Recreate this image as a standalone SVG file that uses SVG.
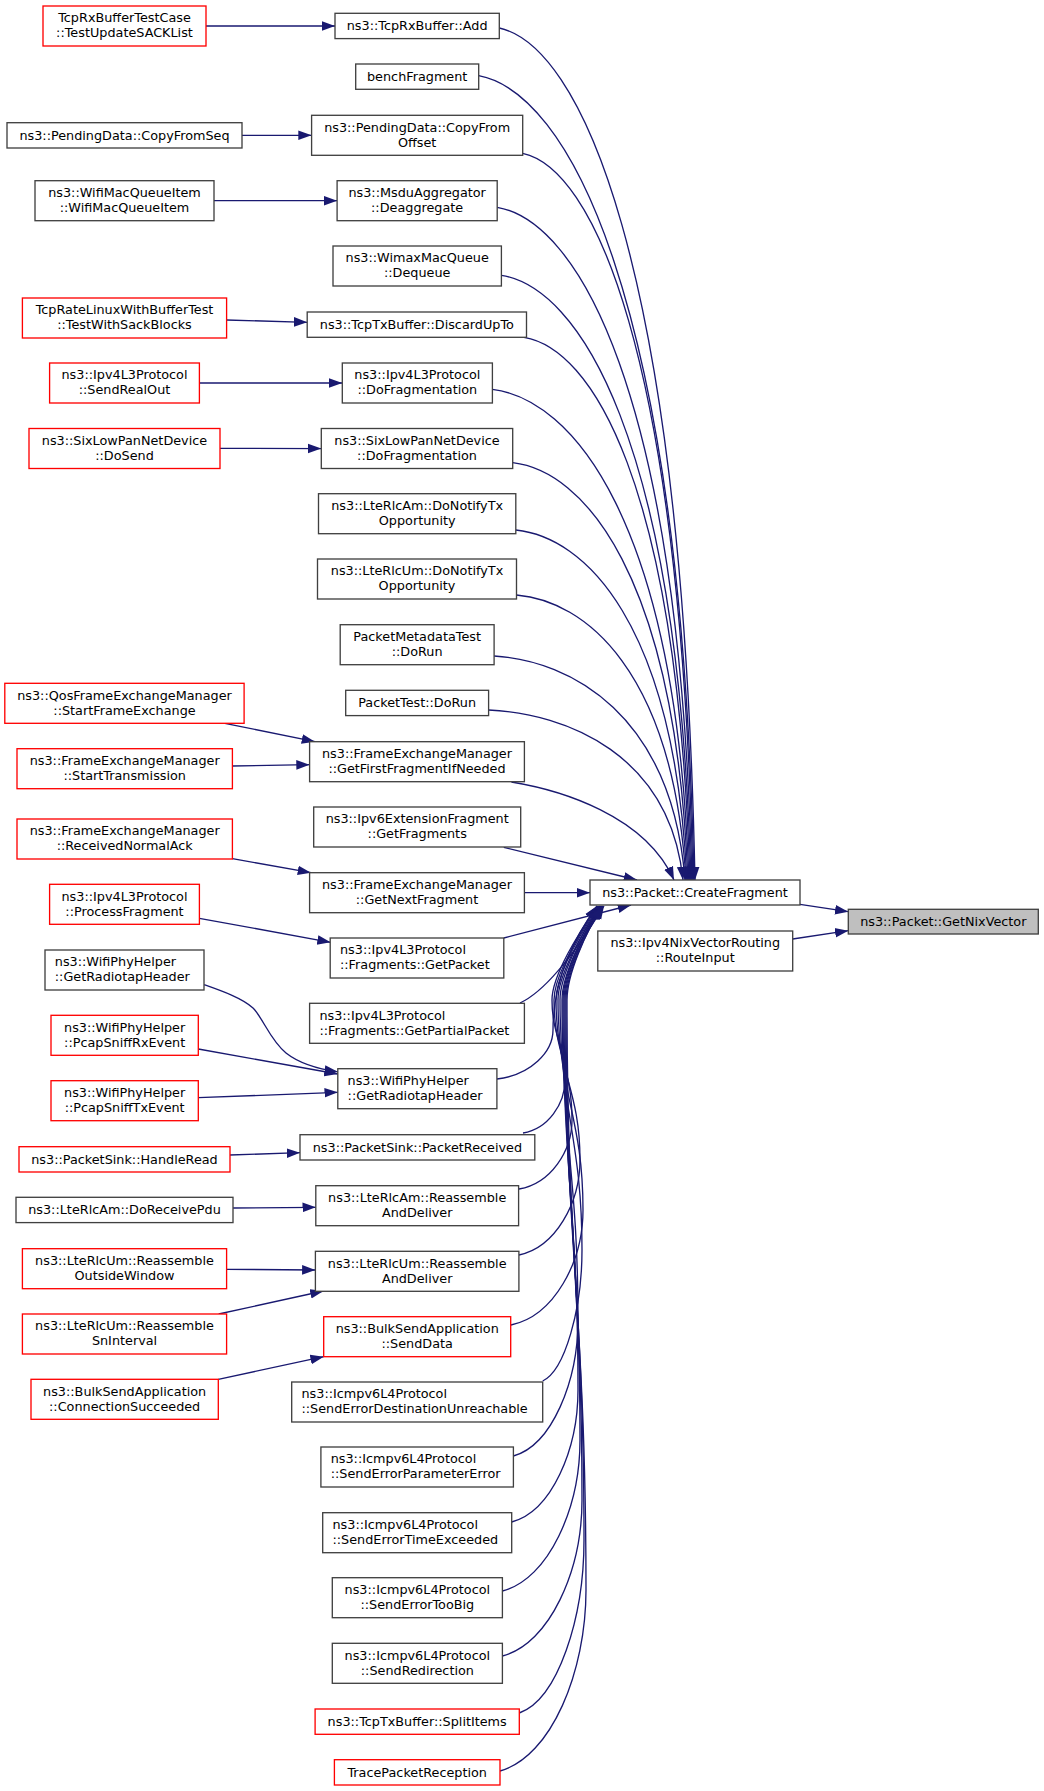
<svg xmlns="http://www.w3.org/2000/svg" width="1044" height="1791" viewBox="0 0 1044 1791">
<defs>
<style>
.n rect{fill:#ffffff;stroke:#404040;stroke-width:1.33}
.r rect{fill:#ffffff;stroke:#ff0000;stroke-width:1.33}
.g rect{fill:#bfbfbf;stroke:#404040;stroke-width:1.33}
text{font-family:"DejaVu Sans","Liberation Sans",sans-serif;font-size:12.8px;fill:#000000}
.c text{text-anchor:middle}
.e path,.e line{fill:none;stroke:#191970;stroke-width:1.33;marker-end:url(#a)}
</style>
<marker id="a" markerUnits="userSpaceOnUse" markerWidth="14" markerHeight="11" viewBox="0 0 14 11" refX="13.3" refY="5.2" orient="auto">
<path d="M0,0.4 L13.3,5.2 L0,10 z" fill="#191970"/>
</marker>
</defs>
<rect x="0" y="0" width="1044" height="1791" fill="#ffffff"/>

<g id="edges" class="e">
<line x1="206" y1="26" x2="335" y2="26"/>
<line x1="242" y1="135.3" x2="311.6" y2="135.3"/>
<line x1="213.8" y1="200.7" x2="337.1" y2="200.7"/>
<line x1="226.6" y1="320" x2="307.2" y2="322.3"/>
<line x1="199.4" y1="383" x2="342.3" y2="383"/>
<line x1="220" y1="448.3" x2="321.3" y2="448.6"/>
<line x1="224.9" y1="723.3" x2="315" y2="741.7"/>
<line x1="232.4" y1="766" x2="309.6" y2="764.7"/>
<line x1="232.4" y1="858.7" x2="311" y2="872.7"/>
<line x1="199.4" y1="918.3" x2="330.6" y2="942.3"/>
<path d="M204.2,984.7 C222,991 242,998 253,1008 C263,1018 270,1040 286,1053 C300,1064 318,1069 337.8,1071.8"/>
<line x1="198.3" y1="1049" x2="337.8" y2="1074"/>
<line x1="198.3" y1="1097.7" x2="337.8" y2="1092.3"/>
<line x1="230" y1="1155" x2="300" y2="1152.7"/>
<line x1="233.1" y1="1208" x2="315.8" y2="1207.3"/>
<line x1="226.6" y1="1269.3" x2="315.4" y2="1270"/>
<line x1="218.7" y1="1314" x2="323.5" y2="1291"/>
<line x1="218.3" y1="1379.3" x2="323.7" y2="1356.7"/>

<path d="M499.3,28 C577.6,45 682,249.5 695,880"/>
<path d="M478.7,75.7 C564.8,91.8 681,284.8 694,880"/>
<path d="M522.7,153.3 C590.8,167.8 680,342.2 693,880"/>
<path d="M497.2,207.3 C575.1,220.8 679,382.2 692,880"/>
<path d="M501.4,275.3 C577.2,287.4 678,432.5 691,880"/>
<path d="M524,337.3 C590.4,348.2 677,478.4 690,880"/>
<path d="M492.4,389.3 C571,399.1 676,516.9 689,880"/>
<path d="M512.7,462.7 C582.8,471 675,571.2 688,880"/>
<path d="M515.8,530 C584.3,537 674,621 687,880"/>
<path d="M516.5,595 C584.3,600.7 673,669.1 686,880"/>
<path d="M494.1,656 C570.5,660.5 672,714.2 685,880"/>
<path d="M488.6,710 C566.4,713.4 670,754.2 683,880"/>
<path d="M511.4,782 C560,790 645,815 674,880"/>
<line x1="503.8" y1="847.3" x2="637" y2="880"/>
<line x1="524.4" y1="892.7" x2="590" y2="892.7"/>
<line x1="503.8" y1="938" x2="631" y2="905"/>
<path d="M520,1003 C548,990 580,945 604,906"/>
<path d="M497,1079 C530.6,1075 553,1052 553,1030 C553,975 578,933 597,906"/>
<path d="M523,1133 C548.2,1128.8 565,1103.8 565,1080 C565,1044 552,1036 552,1000 C552,975 579,933 597,906"/>
<path d="M519,1189 C550.8,1183.5 572,1151 572,1120 C572,1066 554,1054 554,1000 C554,975 580,933 598,906"/>
<path d="M519,1255 C555.6,1247.4 580,1202.8 580,1160 C580,1088 556,1072 556,1000 C556,975 581,933 599,906"/>
<path d="M511,1325 C554.2,1315.8 583,1261.8 583,1210 C583,1115.5 558,1094.5 558,1000 C558,975 582,933 600,906"/>
<path d="M542.7,1381 C565,1370.5 582,1309 582,1250 C582,1137.5 560,1112.5 560,1000 C560,975 582,933 600,906"/>
<path d="M513.4,1456 C552,1445.1 578,1381.2 578,1320 C578,1176 562,1144 562,1000 C562,975 583,933 601,906"/>
<path d="M511.7,1522 C551.6,1511.4 578,1449.4 578,1390 C578,1214.5 563,1175.5 563,1000 C563,975 583,933 601,906"/>
<path d="M502.4,1591 C548.8,1578.9 580,1508 580,1440 C580,1242 564,1198 564,1000 C564,975 584,933 602,906"/>
<path d="M502.4,1656 C550,1643.5 582,1570.2 582,1500 C582,1275 565,1225 565,1000 C565,975 584,933 602,906"/>
<path d="M519.3,1713 C558,1699.2 584,1617.9 584,1540 C584,1297 566,1243 566,1000 C566,975 585,933 603,906"/>
<path d="M500,1771 C551.6,1756.5 586,1671.5 586,1590 C586,1324.5 567,1265.5 567,1000 C567,975 585,933 603,906"/>

<line x1="800" y1="904.3" x2="848.3" y2="911.7"/>
<line x1="792.7" y1="939" x2="848.3" y2="930.7"/>
</g>

<g id="node-L1" class="r c"><rect x="43" y="6" width="163" height="40"/><text x="124.5" y="22.2">TcpRxBufferTestCase</text><text x="124.5" y="37.2">::TestUpdateSACKList</text></g>
<g id="node-L2" class="n c"><rect x="7" y="122.7" width="235" height="25.3"/><text x="124.5" y="139.5">ns3::PendingData::CopyFromSeq</text></g>
<g id="node-L3" class="n c"><rect x="35" y="180.7" width="179" height="40"/><text x="124.5" y="196.9">ns3::WifiMacQueueItem</text><text x="124.5" y="211.9">::WifiMacQueueItem</text></g>
<g id="node-L4" class="r c"><rect x="22.4" y="298" width="204.2" height="40"/><text x="124.5" y="314.2">TcpRateLinuxWithBufferTest</text><text x="124.5" y="329.2">::TestWithSackBlocks</text></g>
<g id="node-L5" class="r c"><rect x="49.6" y="363" width="149.8" height="40"/><text x="124.5" y="379.2">ns3::Ipv4L3Protocol</text><text x="124.5" y="394.2">::SendRealOut</text></g>
<g id="node-L6" class="r c"><rect x="29" y="428.5" width="191" height="40"/><text x="124.5" y="444.7">ns3::SixLowPanNetDevice</text><text x="124.5" y="459.7">::DoSend</text></g>
<g id="node-L7" class="r c"><rect x="4.8" y="683.3" width="239.3" height="40"/><text x="124.5" y="699.5">ns3::QosFrameExchangeManager</text><text x="124.5" y="714.5">::StartFrameExchange</text></g>
<g id="node-L8" class="r c"><rect x="17" y="748.7" width="215.4" height="40"/><text x="124.7" y="764.9">ns3::FrameExchangeManager</text><text x="124.7" y="779.9">::StartTransmission</text></g>
<g id="node-L9" class="r c"><rect x="17" y="819" width="215.4" height="40"/><text x="124.7" y="835.2">ns3::FrameExchangeManager</text><text x="124.7" y="850.2">::ReceivedNormalAck</text></g>
<g id="node-L10" class="r c"><rect x="49.6" y="884.3" width="149.8" height="40"/><text x="124.5" y="900.5">ns3::Ipv4L3Protocol</text><text x="124.5" y="915.5">::ProcessFragment</text></g>
<g id="node-L11" class="n"><rect x="45" y="950" width="159" height="40"/><text x="54.8" y="966.2">ns3::WifiPhyHelper</text><text x="54.8" y="981.2">::GetRadiotapHeader</text></g>
<g id="node-L12" class="r c"><rect x="51" y="1015.3" width="147.3" height="40"/><text x="124.65" y="1031.5">ns3::WifiPhyHelper</text><text x="124.65" y="1046.5">::PcapSniffRxEvent</text></g>
<g id="node-L13" class="r c"><rect x="51" y="1080.7" width="147.3" height="40"/><text x="124.65" y="1096.9">ns3::WifiPhyHelper</text><text x="124.65" y="1111.9">::PcapSniffTxEvent</text></g>
<g id="node-L14" class="r c"><rect x="19" y="1146.7" width="211" height="25.3"/><text x="124.5" y="1163.5">ns3::PacketSink::HandleRead</text></g>
<g id="node-L15" class="n c"><rect x="16" y="1197.3" width="217" height="25.3"/><text x="124.5" y="1214.1">ns3::LteRlcAm::DoReceivePdu</text></g>
<g id="node-L16" class="r c"><rect x="22.4" y="1248.7" width="204.2" height="40"/><text x="124.5" y="1264.9">ns3::LteRlcUm::Reassemble</text><text x="124.5" y="1279.9">OutsideWindow</text></g>
<g id="node-L17" class="r c"><rect x="22.4" y="1314" width="204.2" height="40"/><text x="124.5" y="1330.2">ns3::LteRlcUm::Reassemble</text><text x="124.5" y="1345.2">SnInterval</text></g>
<g id="node-L18" class="r c"><rect x="31" y="1379.3" width="187.3" height="40"/><text x="124.65" y="1395.5">ns3::BulkSendApplication</text><text x="124.65" y="1410.5">::ConnectionSucceeded</text></g>

<g id="node-M1" class="n c"><rect x="335" y="13.3" width="164.3" height="25.3"/><text x="417.15" y="30.15">ns3::TcpRxBuffer::Add</text></g>
<g id="node-M2" class="n c"><rect x="355.7" y="64" width="123" height="25.3"/><text x="417.2" y="80.85">benchFragment</text></g>
<g id="node-M3" class="n c"><rect x="311.6" y="115.3" width="211.1" height="40"/><text x="417.15" y="131.5">ns3::PendingData::CopyFrom</text><text x="417.15" y="146.5">Offset</text></g>
<g id="node-M4" class="n c"><rect x="337.1" y="180.7" width="160.1" height="40"/><text x="417.15" y="196.9">ns3::MsduAggregator</text><text x="417.15" y="211.9">::Deaggregate</text></g>
<g id="node-M5" class="n c"><rect x="333" y="246" width="168.4" height="40"/><text x="417.2" y="262.2">ns3::WimaxMacQueue</text><text x="417.2" y="277.2">::Dequeue</text></g>
<g id="node-M6" class="n c"><rect x="307.2" y="312" width="219.3" height="25.3"/><text x="416.85" y="328.85">ns3::TcpTxBuffer::DiscardUpTo</text></g>
<g id="node-M7" class="n c"><rect x="342.3" y="363" width="150.1" height="40"/><text x="417.35" y="379.2">ns3::Ipv4L3Protocol</text><text x="417.35" y="394.2">::DoFragmentation</text></g>
<g id="node-M8" class="n c"><rect x="321.3" y="428.5" width="191.4" height="40"/><text x="417" y="444.7">ns3::SixLowPanNetDevice</text><text x="417" y="459.7">::DoFragmentation</text></g>
<g id="node-M9" class="n c"><rect x="318.5" y="493.7" width="197.3" height="40"/><text x="417.15" y="509.9">ns3::LteRlcAm::DoNotifyTx</text><text x="417.15" y="524.9">Opportunity</text></g>
<g id="node-M10" class="n c"><rect x="317.5" y="559" width="199" height="40"/><text x="417" y="575.2">ns3::LteRlcUm::DoNotifyTx</text><text x="417" y="590.2">Opportunity</text></g>
<g id="node-M11" class="n c"><rect x="340.2" y="624.7" width="153.9" height="40"/><text x="417.15" y="640.9">PacketMetadataTest</text><text x="417.15" y="655.9">::DoRun</text></g>
<g id="node-M12" class="n c"><rect x="345.7" y="690.3" width="142.9" height="25.3"/><text x="417.15" y="707.15">PacketTest::DoRun</text></g>
<g id="node-M13" class="n c"><rect x="309.6" y="741.7" width="214.8" height="40"/><text x="417" y="757.9">ns3::FrameExchangeManager</text><text x="417" y="772.9">::GetFirstFragmentIfNeeded</text></g>
<g id="node-M14" class="n c"><rect x="313.7" y="807" width="207" height="40"/><text x="417.2" y="823.2">ns3::Ipv6ExtensionFragment</text><text x="417.2" y="838.2">::GetFragments</text></g>
<g id="node-M15" class="n c"><rect x="309.6" y="872.7" width="214.8" height="40"/><text x="417" y="888.9">ns3::FrameExchangeManager</text><text x="417" y="903.9">::GetNextFragment</text></g>
<g id="node-M16" class="n"><rect x="330.2" y="938" width="173.6" height="40"/><text x="340" y="954.2">ns3::Ipv4L3Protocol</text><text x="340" y="969.2">::Fragments::GetPacket</text></g>
<g id="node-M17" class="n"><rect x="309.6" y="1003.3" width="214.8" height="40"/><text x="319.4" y="1019.5">ns3::Ipv4L3Protocol</text><text x="319.4" y="1034.5">::Fragments::GetPartialPacket</text></g>
<g id="node-M18" class="n"><rect x="337.8" y="1068.7" width="159.1" height="40"/><text x="347.6" y="1084.9">ns3::WifiPhyHelper</text><text x="347.6" y="1099.9">::GetRadiotapHeader</text></g>
<g id="node-M19" class="n c"><rect x="300" y="1134.7" width="234.8" height="25.3"/><text x="417.4" y="1151.55">ns3::PacketSink::PacketReceived</text></g>
<g id="node-M20" class="n c"><rect x="315.8" y="1185.7" width="202.8" height="40"/><text x="417.2" y="1201.9">ns3::LteRlcAm::Reassemble</text><text x="417.2" y="1216.9">AndDeliver</text></g>
<g id="node-M21" class="n c"><rect x="315.4" y="1251.3" width="203.5" height="40"/><text x="417.15" y="1267.5">ns3::LteRlcUm::Reassemble</text><text x="417.15" y="1282.5">AndDeliver</text></g>
<g id="node-M22" class="r c"><rect x="323.7" y="1316.7" width="187" height="40"/><text x="417.2" y="1332.9">ns3::BulkSendApplication</text><text x="417.2" y="1347.9">::SendData</text></g>
<g id="node-M23" class="n"><rect x="291.7" y="1382" width="251" height="40"/><text x="301.5" y="1398.2">ns3::Icmpv6L4Protocol</text><text x="301.5" y="1413.2">::SendErrorDestinationUnreachable</text></g>
<g id="node-M24" class="n"><rect x="320.9" y="1447" width="192.5" height="40"/><text x="330.7" y="1463.2">ns3::Icmpv6L4Protocol</text><text x="330.7" y="1478.2">::SendErrorParameterError</text></g>
<g id="node-M25" class="n"><rect x="322.7" y="1512.7" width="189" height="40"/><text x="332.5" y="1528.9">ns3::Icmpv6L4Protocol</text><text x="332.5" y="1543.9">::SendErrorTimeExceeded</text></g>
<g id="node-M26" class="n c"><rect x="332.3" y="1577.7" width="170.1" height="40"/><text x="417.35" y="1593.9">ns3::Icmpv6L4Protocol</text><text x="417.35" y="1608.9">::SendErrorTooBig</text></g>
<g id="node-M27" class="n c"><rect x="332.3" y="1643.3" width="170.1" height="40"/><text x="417.35" y="1659.5">ns3::Icmpv6L4Protocol</text><text x="417.35" y="1674.5">::SendRedirection</text></g>
<g id="node-M28" class="r c"><rect x="315.1" y="1709" width="204.2" height="25.3"/><text x="417.2" y="1725.85">ns3::TcpTxBuffer::SplitItems</text></g>
<g id="node-M29" class="r c"><rect x="334.4" y="1759.7" width="165.6" height="25.3"/><text x="417.2" y="1776.55">TracePacketReception</text></g>

<g id="node-CF" class="n c"><rect x="590" y="880" width="210" height="25"/><text x="695" y="896.7">ns3::Packet::CreateFragment</text></g>
<g id="node-RI" class="n c"><rect x="597.8" y="931" width="194.9" height="40"/><text x="695.25" y="947.2">ns3::Ipv4NixVectorRouting</text><text x="695.25" y="962.2">::RouteInput</text></g>
<g id="node-GNV" class="g c"><rect x="848.3" y="909.3" width="190" height="24.7"/><text x="943.3" y="925.9">ns3::Packet::GetNixVector</text></g>
</svg>
